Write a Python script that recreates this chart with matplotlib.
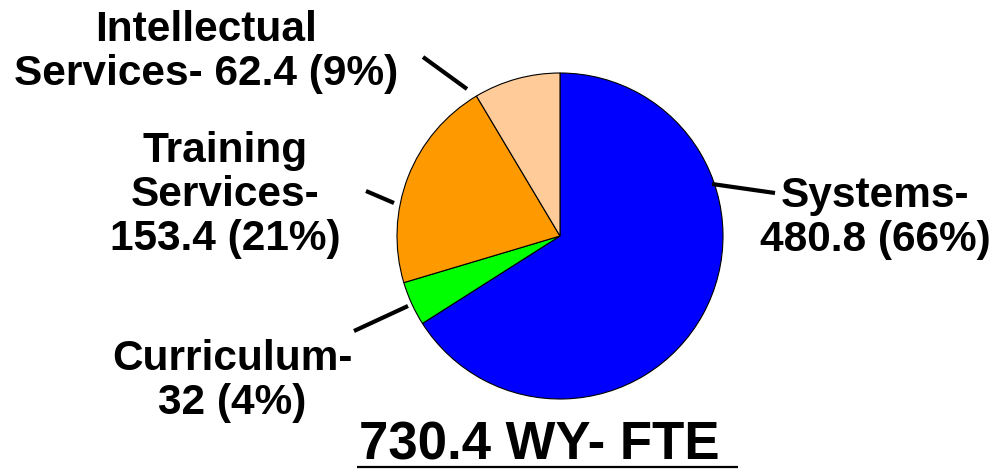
import matplotlib
matplotlib.use("Agg")
import matplotlib.pyplot as plt

categories = ["Systems", "Curriculum", "Training Services", "Intellectual Services"]
values = [480.8, 32, 153.4, 62.4]
percents = [66, 4, 21, 9]
colors = ["#0000FF", "#00FF00", "#FF9900", "#FFCC99"]
label_texts = [
    "Systems-\n480.8 (66%)",
    "Curriculum-\n32 (4%)",
    "Training\nServices-\n153.4 (21%)",
    "Intellectual\nServices- 62.4 (9%)",
]
title = "730.4 WY- FTE"

W, H = 997, 470
fig = plt.figure(figsize=(W / 100, H / 100), dpi=100)
ax = fig.add_axes([0, 0, 1, 1])
ax.set_xlim(0, W)
ax.set_ylim(0, H)
ax.axis("off")

def P(x, y):
    return x, H - y

ax.pie(values, colors=colors, startangle=90, counterclock=False,
       center=P(560, 236), radius=163,
       wedgeprops=dict(edgecolor="black", linewidth=0.8))
ax.set_xlim(0, W)
ax.set_ylim(0, H)
ax.set_aspect("auto")

font = dict(family="Liberation Sans", fontweight="bold", fontsize=30.5, color="black")

# label positions (pixel centers) and leader lines
label_pos = [(875, 218), (232, 381), (225, 195), (206, 52)]
leaders = [((712, 184), (775, 193)), ((354, 331), (408, 306)),
           ((366, 191), (394, 203)), ((423, 57), (467, 89))]

for txt, pos, (a, b) in zip(label_texts, label_pos, leaders):
    ax.text(*P(*pos), txt, ha="center", va="center", linespacing=1.12, **font)
    ax.plot([P(*a)[0], P(*b)[0]], [P(*a)[1], P(*b)[1]], color="black",
            linewidth=3, solid_capstyle="butt")

ax.text(*P(539, 460), title, ha="center", va="baseline",
        family="Liberation Sans", fontweight="bold", fontsize=38, color="black")
ax.plot([P(357, 467)[0], P(738, 467)[0]], [P(357, 467)[1], P(738, 467)[1]],
        color="black", linewidth=1.6, solid_capstyle="butt")

fig.savefig("out.png", dpi=100)
